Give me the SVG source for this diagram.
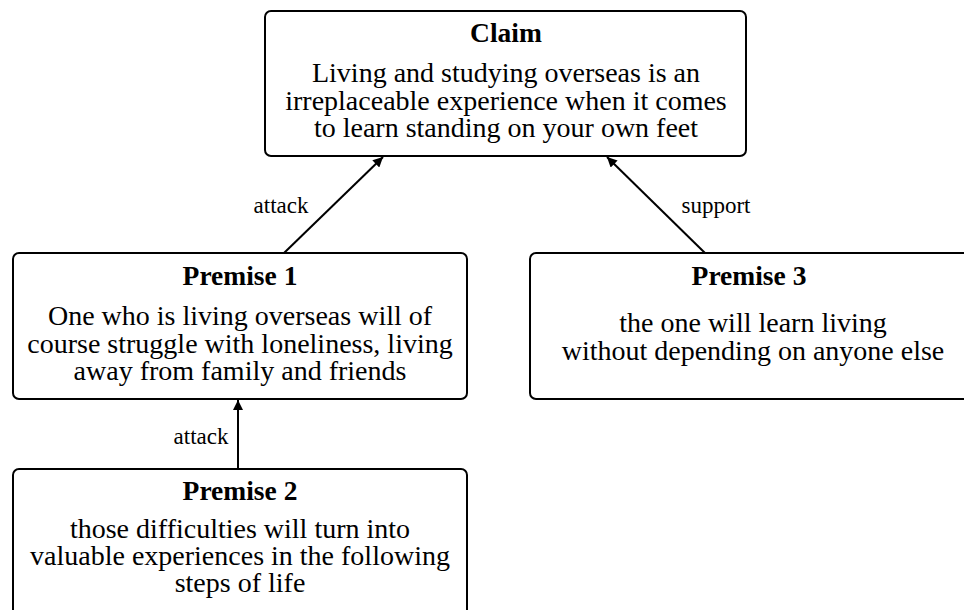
<svg xmlns="http://www.w3.org/2000/svg" width="964" height="610" viewBox="0 0 964 610">
  <defs>
    <marker id="arrow" viewBox="0 0 10 10" refX="10" refY="5" markerWidth="10" markerHeight="10" markerUnits="userSpaceOnUse" orient="auto">
      <path d="M0,0 L10,5 L0,10 z" fill="#000"/>
    </marker>
    <style>
      text { font-family: 'Liberation Serif', 'Times New Roman', Times, 'DejaVu Serif', serif; fill: #000; text-anchor: middle; }
      .box { fill: #fff; stroke: #000; stroke-width: 2; }
      .title { font-weight: bold; font-size: 27.5px; }
      .body { font-size: 28px; }
      .edge { stroke: #000; stroke-width: 2; fill: none; marker-end: url(#arrow); }
      .elabel { font-size: 23px; }
    </style>
  </defs>
  <rect width="964" height="610" fill="#fff"/>

  <g id="connectors">
    <line class="edge" x1="284" y1="253" x2="383" y2="157"/>
    <text class="elabel" x="281" y="213">attack</text>
    <line class="edge" x1="705" y1="253" x2="607" y2="157"/>
    <text class="elabel" x="716" y="213">support</text>
    <line class="edge" x1="238" y1="469" x2="238" y2="400"/>
    <text class="elabel" x="201" y="444">attack</text>
  </g>

  <g id="claim">
    <rect class="box" x="265" y="11" width="481" height="145" rx="6"/>
    <text class="title" x="506" y="42">Claim</text>
    <text class="body" x="506" y="82">Living and studying overseas is an</text>
    <text class="body" x="506" y="110">irreplaceable experience when it comes</text>
    <text class="body" x="506" y="137">to learn standing on your own feet</text>
  </g>

  <g id="premise1">
    <rect class="box" x="13" y="253" width="454" height="146" rx="6"/>
    <text class="title" x="240" y="285">Premise 1</text>
    <text class="body" x="240" y="325">One who is living overseas will of</text>
    <text class="body" x="240" y="353">course struggle with loneliness, living</text>
    <text class="body" x="240" y="380">away from family and friends</text>
  </g>

  <g id="premise3">
    <rect class="box" x="530" y="253" width="444" height="146" rx="6"/>
    <text class="title" x="749" y="285">Premise 3</text>
    <text class="body" x="753" y="332">the one will learn living</text>
    <text class="body" x="753" y="360">without depending on anyone else</text>
  </g>

  <g id="premise2">
    <rect class="box" x="13" y="469" width="454" height="160" rx="6"/>
    <text class="title" x="240" y="500">Premise 2</text>
    <text class="body" x="240" y="538">those difficulties will turn into</text>
    <text class="body" x="240" y="565">valuable experiences in the following</text>
    <text class="body" x="240" y="592">steps of life</text>
  </g>
</svg>
